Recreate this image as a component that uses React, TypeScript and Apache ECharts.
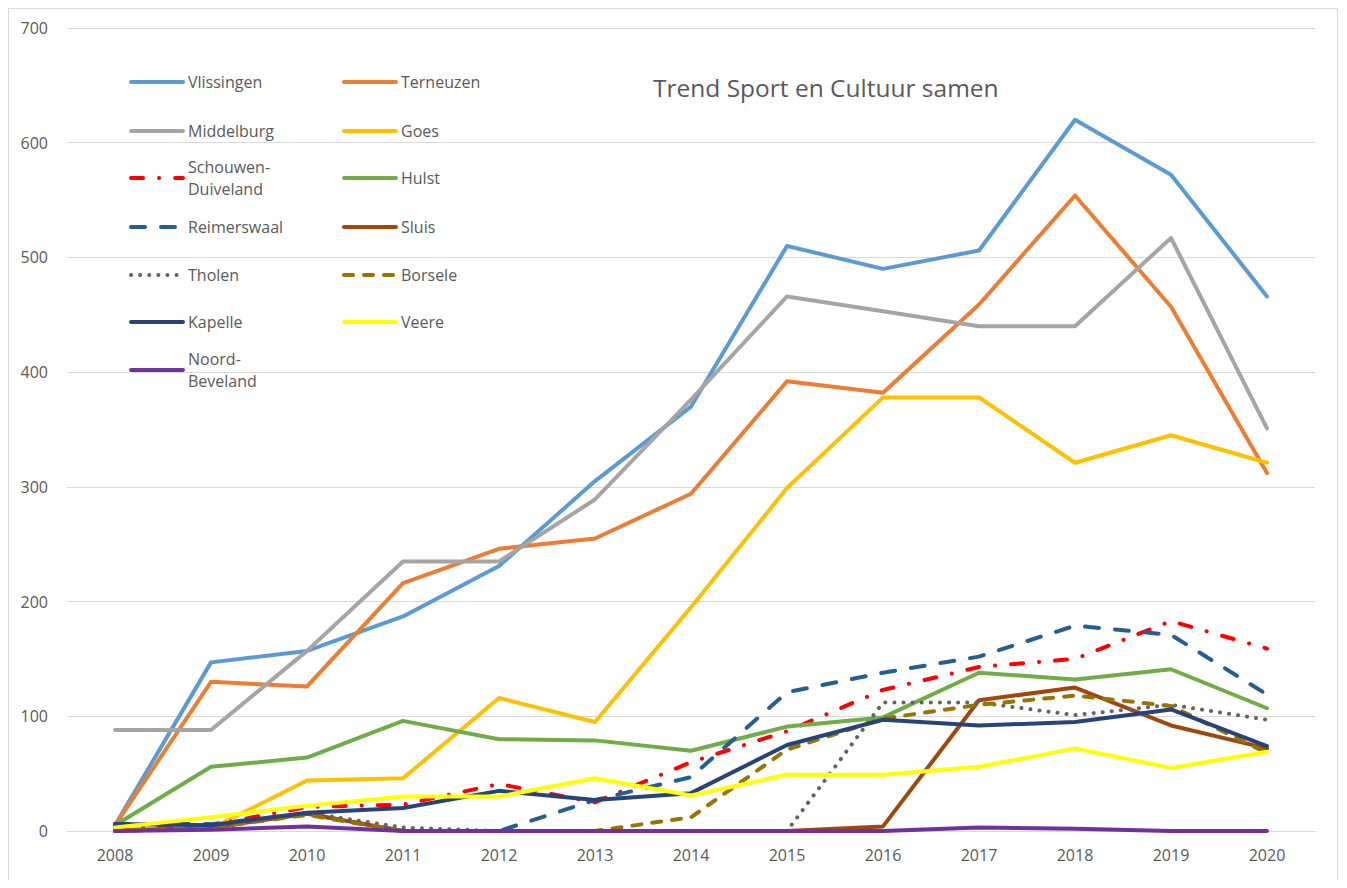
import React, { useEffect, useRef } from "react";
import * as echarts from "echarts";

const years = ["2008", "2009", "2010", "2011", "2012", "2013", "2014", "2015", "2016", "2017", "2018", "2019", "2020"];
const yTicks = { min: 0, max: 700, interval: 100 };
const titleText = "Trend Sport en Cultuur samen";

const vlissingen = [5, 147, 157, 187, 231, 305, 370, 510, 490, 506, 620, 572, 466];
const terneuzen = [5, 130, 126, 216, 246, 255, 294, 392, 382, 459, 554, 457, 312];
const middelburg = [88, 88, 157, 235, 235, 289, 376, 466, 453, 440, 440, 517, 351];
const goes = [2, 2, 44, 46, 116, 95, 195, 299, 378, 378, 321, 345, 321];
const schouwenDuiveland = [2, 5, 21, 23, 41, 25, 60, 87, 123, 143, 150, 183, 159];
const hulst = [5, 56, 64, 96, 80, 79, 70, 91, 99, 138, 132, 141, 107];
const reimerswaal = [6, 6, 15, 0, 0, 27, 47, 121, 138, 152, 179, 171, 119];
const sluis = [0, 3, 15, 0, 0, 0, 0, 0, 4, 114, 125, 92, 72];
const tholen = [0, 2, 16, 3, 0, 0, 0, 0, 112, 112, 101, 110, 97];
const borsele = [0, 3, 14, 0, 0, 0, 12, 71, 98, 110, 118, 109, 68];
const kapelle = [6, 5, 16, 20, 35, 27, 33, 75, 97, 92, 95, 106, 74];
const veere = [3, 12, 22, 30, 30, 46, 31, 49, 49, 56, 72, 55, 69];
const noordBeveland = [0, 1, 4, 0, 0, 0, 0, 0, 0, 3, 2, 0, 0];

const seriesDefs = [
  { name: "Vlissingen", data: vlissingen, color: "#5B9BD5", type: "solid" },
  { name: "Terneuzen", data: terneuzen, color: "#ED7D31", type: "solid" },
  { name: "Middelburg", data: middelburg, color: "#A5A5A5", type: "solid" },
  { name: "Goes", data: goes, color: "#FFC000", type: "solid" },
  { name: "Schouwen-Duiveland", data: schouwenDuiveland, color: "#FF0000", type: [12, 16, 0.1, 16] },
  { name: "Hulst", data: hulst, color: "#70AD47", type: "solid" },
  { name: "Reimerswaal", data: reimerswaal, color: "#255E91", type: [14, 16] },
  { name: "Sluis", data: sluis, color: "#9E480E", type: "solid" },
  { name: "Tholen", data: tholen, color: "#636363", type: [0.1, 9] },
  { name: "Borsele", data: borsele, color: "#997300", type: [9, 11] },
  { name: "Kapelle", data: kapelle, color: "#264478", type: "solid" },
  { name: "Veere", data: veere, color: "#FFFF00", type: "solid" },
  { name: "Noord-Beveland", data: noordBeveland, color: "#7030A0", type: "solid" },
];

const legendRows = [
  ["Vlissingen", "Terneuzen"],
  ["Middelburg", "Goes"],
  ["Schouwen-Duiveland", "Hulst"],
  ["Reimerswaal", "Sluis"],
  ["Tholen", "Borsele"],
  ["Kapelle", "Veere"],
  ["Noord-Beveland"],
];

const FONT = "'Open Sans', 'Noto Sans', sans-serif";
const TEXT_COLOR = "#595959";

export default function App() {
  const ref = useRef<HTMLDivElement>(null);

  useEffect(() => {
    if (!ref.current) return;
    const chart = echarts.init(ref.current, undefined, { renderer: "svg" });

    const rowCenters = [73, 122, 169, 218, 266, 313, 361];
    const colLefts = [120, 333];
    const legends: any[] = [];
    legendRows.forEach((row, r) => {
      row.forEach((name, c) => {
        const wrapped = name.includes("-");
        legends.push({
          data: [name],
          left: colLefts[c],
          top: rowCenters[r] - (wrapped ? 33 : 11),
          padding: 0,
          itemWidth: 52,
          itemHeight: 14,
          selectedMode: false,
          lineStyle: { width: 4 },
          itemStyle: { opacity: 0, color: "rgba(0,0,0,0)", borderWidth: 0 },
          formatter: (n: string) => (n.includes("-") ? n.replace("-", "-\n") : n),
          textStyle: {
            fontFamily: FONT,
            fontSize: 16,
            color: TEXT_COLOR,
            lineHeight: 22,
            padding: wrapped ? [22, 0, 0, 0] : 0,
          },
        });
      });
    });

    chart.setOption({
      animation: false,
      backgroundColor: "#ffffff",
      title: {
        text: titleText,
        left: 644,
        top: 63,
        padding: 0,
        textStyle: {
          fontFamily: FONT,
          fontSize: 24.5,
          fontWeight: "normal",
          color: TEXT_COLOR,
          lineHeight: 30,
        },
      },
      legend: legends,
      grid: { left: 58, right: 22, top: 19, bottom: 49, containLabel: false },
      xAxis: {
        type: "category",
        data: years,
        boundaryGap: true,
        axisLine: { show: true, lineStyle: { color: "#d9d9d9", width: 1 } },
        axisTick: { show: false },
        axisLabel: { fontFamily: FONT, fontSize: 16, color: TEXT_COLOR, margin: 16 },
        splitLine: { show: false },
      },
      yAxis: {
        type: "value",
        min: yTicks.min,
        max: yTicks.max,
        interval: yTicks.interval,
        axisLine: { show: false },
        axisTick: { show: false },
        axisLabel: { fontFamily: FONT, fontSize: 16, color: TEXT_COLOR, margin: 19 },
        splitLine: { show: true, lineStyle: { color: "#d9d9d9", width: 1 } },
      },
      series: seriesDefs.map((s) => ({
        name: s.name,
        type: "line",
        data: s.data,
        symbol: "none",
        showSymbol: false,
        color: s.color,
        lineStyle: { color: s.color, width: 4, type: s.type as any, cap: "round", join: "round" },
        emphasis: { disabled: true },
      })),
    });

    return () => chart.dispose();
  }, []);

  return (
    <div
      ref={ref}
      style={{
        width: 1330,
        height: 872,
        boxSizing: "border-box",
        borderLeft: "1px solid #d9d9d9",
        borderTop: "1px solid #d9d9d9",
        borderRight: "1px solid #d9d9d9",
        background: "#ffffff",
      }}
    />
  );
}
